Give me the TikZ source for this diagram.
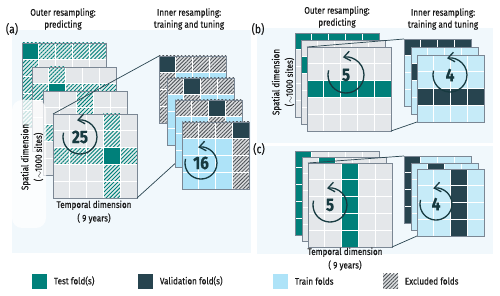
\documentclass[tikz,border=0pt]{standalone}
\usepackage{fontspec}
\setmainfont{Fira Sans}[FakeStretch=0.85, FakeBold=0.5]
\usetikzlibrary{calc, arrows.meta, patterns.meta}

\definecolor{panelbg}{HTML}{F1F8FC}
\definecolor{cellgrey}{HTML}{E4E7EA}
\definecolor{framegrey}{HTML}{7B8794}
\definecolor{testteal}{HTML}{00807A}
\definecolor{validdark}{HTML}{27444F}
\definecolor{trainA}{HTML}{AEE3F8}
\definecolor{trainB}{HTML}{C6EBF8}
\definecolor{tealhatchbg}{HTML}{E3ECEC}
\definecolor{exclbg}{HTML}{DADCDE}
\definecolor{excldark}{HTML}{4A4F54}
\definecolor{arrowdark}{HTML}{173A40}
\definecolor{linkdark}{HTML}{2A4550}
\definecolor{inkdark}{HTML}{1A1A1A}

\def\cs{16.8}
% cell, row and column fills inside a named grid node
\newcommand{\cell}[4]{\path[#4] ($(#1.north west)+(#3*\cs,#2*\cs)$) rectangle ++(\cs,\cs);}
\newcommand{\rowband}[4]{\path[#4] ($(#1.north west)+(0,#2*\cs)$) rectangle ++(#3*\cs,\cs);}
\newcommand{\colband}[4]{\path[#4] ($(#1.north west)+(#2*\cs,0)$) rectangle ++(\cs,#3*\cs);}
\newcommand{\gridfinish}[2]{%
  \foreach \k in {#2}{
    \draw[cellline] ($(#1.north west)+(\k*\cs,0)$) -- ($(#1.south west)+(\k*\cs,0)$);
    \draw[cellline] ($(#1.north west)+(0,\k*\cs)$) -- ($(#1.north east)+(0,\k*\cs)$);
  }
  \draw[gridframe] (#1.north west) rectangle (#1.south east);}
\newcommand{\loopnum}[4]{%
  \node[numtext] (#1) at (#2) {#4};
  \draw[looparrow] (#1.center) ++(165:#3) arc[start angle=165, end angle=460, radius=#3];}

\begin{document}
\begin{tikzpicture}[x=1pt, y=-1pt, font=\fontsize{9.5}{12}\selectfont, text=inkdark,
  gridbox/.style={anchor=north west, inner sep=0pt, outer sep=0pt, minimum size=#1},
  gridframe/.style={draw=framegrey, line width=0.7pt},
  cellline/.style={draw=white, line width=0.8pt},
  testcell/.style={fill=testteal},
  validcell/.style={fill=validdark},
  testhatch/.style={fill=tealhatchbg, postaction={pattern={Lines[angle=45, distance=2.8pt, line width=0.9pt]}, pattern color=testteal}},
  exclhatch/.style={fill=exclbg, postaction={pattern={Lines[angle=45, distance=2.6pt, line width=0.8pt]}, pattern color=excldark}},
  zoomline/.style={draw=linkdark, line width=0.7pt},
  looparrow/.style={draw=arrowdark, line width=1.3pt, -{Straight Barb[length=2.2mm, width=3.4mm]}},
  numtext/.style={font=\fontsize{18}{18}\selectfont\bfseries, text=arrowdark},
  heading/.style={align=center},
  axislabel/.style={align=center, font=\fontsize{9.5}{13.5}\selectfont},
  paneltag/.style={font=\fontsize{12}{12}\selectfont},
  legendkey/.style={minimum size=15pt, inner sep=0pt, anchor=west},
  legendtext/.style={anchor=west}]
  \useasboundingbox (0,0) rectangle (500,296);

  % panel backgrounds
  \fill[panelbg] (12,30) rectangle (251,253);
  \fill[panelbg] (257,28) rectangle (493,143);
  \fill[panelbg] (257,146) rectangle (493,254);

  % (a) outer resampling
  \node[gridbox=84pt, fill=cellgrey] (A1) at (22,43) {};
  \rowband{A1}{0}{5}{testhatch} \colband{A1}{0}{5}{testhatch} \cell{A1}{0}{0}{testcell}
  \gridfinish{A1}{1,2,3,4}
  \node[gridbox=84pt, fill=cellgrey] (A2) at (32,67) {};
  \rowband{A2}{1}{5}{testhatch} \colband{A2}{1}{5}{testhatch} \cell{A2}{1}{1}{testcell}
  \gridfinish{A2}{1,2,3,4}
  \node[gridbox=84pt, fill=cellgrey] (A3) at (43,91) {};
  \rowband{A3}{2}{5}{testhatch} \colband{A3}{2}{5}{testhatch} \cell{A3}{2}{2}{testcell}
  \gridfinish{A3}{1,2,3,4}
  \node[gridbox=84pt, fill=cellgrey] (A4) at (53,114) {};
  \rowband{A4}{2}{5}{testhatch} \colband{A4}{3}{5}{testhatch} \cell{A4}{2}{3}{testcell}
  \gridfinish{A4}{1,2,3,4}
  \loopnum{n25}{80,137}{17pt}{25}

  \fill[white, opacity=0.75, rounded corners=10pt] (12,100) rectangle (46,228);
  \node[axislabel, rotate=90] (aspace) at (32,157) {Spatial dimension\\($\sim$1000 sites)};
  \node[axislabel] (atime) at (94,212) {Temporal dimension\\( 9 years)};

  % (a) zoom lines and inner resampling
  \coordinate (abehind) at (190,150);
  \draw[zoomline] (A4.north west) -- (159,56) coordinate (ahit);
  \draw[zoomline] (A4.south east) -- (abehind);
  \node[gridbox=67.2pt, fill=trainA] (I1) at (ahit) {};
  \rowband{I1}{0}{4}{exclhatch} \colband{I1}{0}{4}{exclhatch} \cell{I1}{0}{0}{validcell}
  \gridfinish{I1}{1,2,3}
  \node[gridbox=67.2pt, fill=trainA] (I2) at (167,78) {};
  \rowband{I2}{0}{4}{exclhatch} \colband{I2}{1}{4}{exclhatch} \cell{I2}{0}{1}{validcell}
  \gridfinish{I2}{1,2,3}
  \node[gridbox=67.2pt, fill=trainA] (I3) at (175,100) {};
  \rowband{I3}{0}{4}{exclhatch} \colband{I3}{2}{4}{exclhatch} \cell{I3}{0}{2}{validcell}
  \gridfinish{I3}{1,2,3}
  \node[gridbox=67.2pt, fill=trainA] (I4) at (182,122) {};
  \rowband{I4}{0}{4}{exclhatch} \colband{I4}{3}{4}{exclhatch} \cell{I4}{0}{3}{validcell}
  \gridfinish{I4}{1,2,3}
  \loopnum{n16}{201,163}{16pt}{16}

  % (b) spatial folds
  \node[gridbox=84pt, fill=cellgrey] (B1) at (295,33) {};
  \rowband{B1}{0}{5}{testcell} \gridfinish{B1}{1,2,3,4}
  \node[gridbox=84pt, fill=cellgrey] (B2) at (301,40) {};
  \rowband{B2}{1}{5}{testcell} \gridfinish{B2}{1,2,3,4}
  \node[gridbox=84pt, fill=cellgrey] (B3) at (307,47) {};
  \rowband{B3}{2}{5}{testcell} \gridfinish{B3}{1,2,3,4}
  \loopnum{n5b}{346,75}{18pt}{5}
  \node[axislabel, rotate=90] (bspace) at (283,82) {Spatial dimension\\($\sim$1000 sites)};

  \draw[zoomline] (B3.north west) -- (404,39) coordinate (bhit);
  \draw[zoomline] (B3.south east) -- (417,122);
  \node[gridbox=67.2pt, fill=trainB] (BI1) at (bhit) {};
  \rowband{BI1}{0}{4}{validcell} \gridfinish{BI1}{1,2,3}
  \node[gridbox=67.2pt, fill=trainB] (BI2) at (411,47) {};
  \rowband{BI2}{1}{4}{validcell} \gridfinish{BI2}{1,2,3}
  \node[gridbox=67.2pt, fill=trainB] (BI3) at (417,55) {};
  \rowband{BI3}{2}{4}{validcell} \gridfinish{BI3}{1,2,3}
  \loopnum{n4b}{450,75}{17pt}{4}

  % (c) temporal folds
  \node[gridbox=84pt, fill=cellgrey] (C1) at (295,151) {};
  \colband{C1}{0}{5}{testcell} \gridfinish{C1}{1,2,3,4}
  \node[gridbox=84pt, fill=cellgrey] (C2) at (302,157) {};
  \colband{C2}{1}{5}{testcell} \gridfinish{C2}{1,2,3,4}
  \node[gridbox=84pt, fill=cellgrey] (C3) at (308,163) {};
  \colband{C3}{2}{5}{testcell} \gridfinish{C3}{1,2,3,4}
  \loopnum{n5c}{330,205}{17pt}{5}
  \node[axislabel] (ctime) at (345,259) {Temporal dimension\\( 9 years)};

  \draw[zoomline] (C3.north west) -- (404,156) coordinate (chit);
  \draw[zoomline] (C3.south east) -- (417,236);
  \node[gridbox=67.2pt, fill=trainB] (CI1) at (chit) {};
  \colband{CI1}{0}{4}{validcell} \gridfinish{CI1}{1,2,3}
  \node[gridbox=67.2pt, fill=trainB] (CI2) at (411,163) {};
  \colband{CI2}{1}{4}{validcell} \gridfinish{CI2}{1,2,3}
  \node[gridbox=67.2pt, fill=trainB] (CI3) at (417,169) {};
  \colband{CI3}{2}{4}{validcell} \gridfinish{CI3}{1,2,3}
  \loopnum{n4c}{436,204}{16pt}{4}

  % headings and panel tags
  \node[heading] (aout) at (63,19) {Outer resampling:\\predicting};
  \node[heading] (ain) at (189,19) {Inner resampling:\\training and tuning};
  \node[heading] (bout) at (337,17) {Outer resampling:\\predicting};
  \node[heading] (bin) at (443,19) {Inner resampling:\\training and tuning};
  \node[paneltag] (taga) at (12,29) {(a)};
  \node[paneltag] (tagb) at (258,29) {(b)};
  \node[paneltag] (tagc) at (259,149) {(c)};

  % legend
  \node[legendkey, fill=testteal] (ktest) at (32,281) {};
  \node[legendtext] (ltest) at ($(ktest.east)+(3,0)$) {Test fold(s)};
  \node[legendkey, fill=validdark] (kval) at (138,281) {};
  \node[legendtext] (lval) at ($(kval.east)+(3,0)$) {Validation fold(s)};
  \node[legendkey, fill=trainA] (ktrain) at (273,281) {};
  \node[legendtext] (ltrain) at ($(ktrain.east)+(3,0)$) {Train folds};
  \node[legendkey, exclhatch] (kexcl) at (383,281) {};
  \node[legendtext] (lexcl) at ($(kexcl.east)+(3,0)$) {Excluded folds};
\end{tikzpicture}
\end{document}
